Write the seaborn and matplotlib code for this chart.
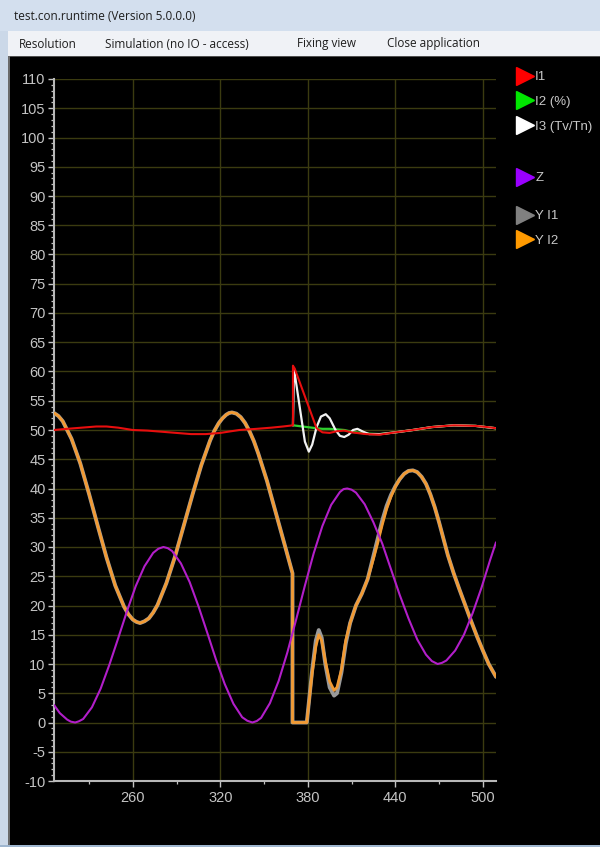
import numpy as np
import pandas as pd
import matplotlib
matplotlib.use("Agg")
import matplotlib.pyplot as plt
import seaborn as sns
from matplotlib.patches import Rectangle
from matplotlib.lines import Line2D
from matplotlib.ticker import FixedLocator, MultipleLocator

# ---------------- data ----------------
window_title = "test.con.runtime (Version 5.0.0.0)"
menu_items = ["Resolution", "Simulation (no IO - access)", "Fixing view", "Close application"]
menu_x_px = [19, 105, 297, 387]

x_major_ticks = [260, 320, 380, 440, 500]
x_minor_ticks = [230, 290, 350, 410, 470]
y_major_ticks = list(range(-10, 111, 5))

legend_labels = ["I1", "I2 (%)", "I3 (Tv/Tn)", "Z", "Y I1", "Y I2"]

# I1 (red)
i1_x = [206, 215, 225, 235, 242, 250, 260, 270, 280, 290, 300, 310, 320, 333, 345, 355, 363, 369.8,
        369.8, 371, 386, 390, 395, 400, 405, 410, 420, 429, 440, 452, 465, 480, 495, 503, 509]
i1_y = [50.0, 50.2, 50.4, 50.6, 50.6, 50.4, 50.0, 49.9, 49.7, 49.5, 49.3, 49.3, 49.5, 50.0, 50.2, 50.4, 50.6, 50.8,
        61.0, 60.5, 50.3, 49.6, 49.5, 49.8, 49.9, 49.6, 49.3, 49.2, 49.6, 50.0, 50.5, 50.8, 50.7, 50.5, 50.3]

# I2 (%) (green)
i2_x = [369.8, 386, 390, 395, 400, 405, 410, 420, 429, 440, 452, 465, 480, 495, 509]
i2_y = [50.8, 50.3, 50.2, 50.2, 50.1, 50.0, 49.7, 49.4, 49.3, 49.6, 50.0, 50.5, 50.8, 50.7, 50.3]

# I3 (Tv/Tn) (white)
i3_x = [369.8, 370.5, 372, 375, 378, 380.7, 383, 386, 389, 392.3, 395, 399, 402, 405, 408, 411, 414,
        418, 422, 430, 440, 452, 465, 480, 495, 509]
i3_y = [50.8, 60.5, 58.0, 53.0, 48.0, 46.3, 47.5, 50.5, 52.3, 52.7, 52.0, 50.0, 49.0, 48.8, 49.2, 50.0, 50.2,
        49.7, 49.3, 49.3, 49.6, 50.0, 50.5, 50.8, 50.7, 50.3]

# Z (purple)
z_x = [206, 210, 215, 217.5, 220.5, 223, 226, 232, 238, 244, 250, 256, 262, 268, 274, 277.5, 281,
       284, 287, 293, 299, 305, 311, 317, 323, 329, 335, 338.5, 342,
       345, 348, 354, 360, 366, 372, 378, 384, 390, 396, 402, 404.5, 407,
       410, 413, 419, 425, 431, 437, 443, 449, 455, 461, 465, 469,
       472, 475, 481, 487, 493, 499, 505, 509]
z_y = [3.0, 1.6, 0.5, 0.15, 0.0, 0.2, 0.6, 2.6, 5.8, 9.9, 14.4, 19.0, 23.3, 26.7, 29.0, 29.7, 30.0,
       29.8, 29.3, 27.2, 24.0, 19.9, 15.4, 10.8, 6.6, 3.2, 0.9, 0.3, 0.0,
       0.25, 0.8, 3.3, 7.1, 12.0, 17.6, 23.4, 28.9, 33.6, 37.2, 39.4, 39.9, 40.0,
       39.8, 39.3, 37.3, 34.2, 30.6, 26.2, 21.8, 17.8, 14.2, 11.6, 10.5, 10.0,
       10.2, 10.6, 12.3, 15.0, 18.7, 23.0, 27.8, 30.8]

# Y I2 (orange)
yi2_x = [206, 209, 212, 218, 224, 230, 236, 242, 248, 254, 257, 260, 262.5, 265,
         268, 271, 274, 277, 283, 289, 295, 301, 307, 313, 316, 319, 321.5, 324, 326, 328,
         331, 334, 337, 340, 343, 346, 352, 358, 364, 369.5, 369.5, 379.3,
         383, 385.5, 387.5, 389.5, 392, 395, 398, 400, 403, 406,
         409, 413, 417, 421, 425, 428, 431, 434, 437, 440, 443, 446, 449, 452,
         455, 458, 461, 464, 467, 470, 473, 476, 480, 484, 488, 492, 496, 500, 504, 509]
yi2_y = [52.9, 52.4, 51.5, 48.5, 44.3, 39.1, 33.6, 28.2, 23.4, 19.8, 18.5, 17.6, 17.2, 17.0,
         17.3, 17.8, 18.8, 20.1, 23.8, 28.4, 33.7, 39.0, 44.0, 48.2, 49.9, 51.2, 52.0, 52.6, 52.9, 53.0,
         52.8, 52.2, 51.2, 49.8, 48.1, 46.0, 41.3, 35.9, 30.5, 25.5, 0.0, 0.0,
         8.5, 13.0, 15.0, 14.0, 10.5, 7.0, 5.5, 6.0, 9.0, 14.0,
         17.0, 20.0, 22.0, 24.5, 28.0, 30.8, 33.8, 36.5, 38.6, 40.3, 41.6, 42.5, 43.0, 43.1,
         42.8, 42.0, 40.8, 39.0, 36.8, 34.2, 31.4, 28.6, 25.5, 22.7, 20.0, 17.3, 14.7, 12.3, 10.0, 7.8]

# Y I1 (grey)
yi1_x = list(yi2_x)
yi1_y = [52.9, 52.4, 51.5, 48.5, 44.3, 39.1, 33.6, 28.2, 23.4, 19.8, 18.5, 17.6, 17.2, 17.0,
         17.3, 17.8, 18.8, 20.1, 23.8, 28.4, 33.7, 39.0, 44.0, 48.2, 49.9, 51.2, 52.0, 52.6, 52.9, 53.0,
         52.8, 52.2, 51.2, 49.8, 48.1, 46.0, 41.3, 35.9, 30.5, 25.5, 0.0, 0.0,
         9.0, 14.0, 15.8, 14.5, 10.0, 6.0, 4.6, 5.0, 8.5, 13.5,
         17.0, 20.0, 22.0, 24.5, 28.5, 31.5, 34.5, 37.0, 38.9, 40.4, 41.6, 42.5, 43.0, 43.1,
         42.8, 42.0, 40.8, 39.0, 36.8, 34.2, 31.4, 28.6, 25.5, 22.7, 20.0, 17.3, 14.7, 12.3, 10.0, 7.8]

# ---------------- style ----------------
sns.set_theme(style="ticks")
plt.rcParams["font.family"] = ["Liberation Sans Narrow", "Liberation Sans", "DejaVu Sans"]
plt.rcParams["axes.unicode_minus"] = False

W, H = 600, 847
fig = plt.figure(figsize=(W / 100, H / 100), dpi=100, facecolor="black")


def fx(px):
    return px / W


def fy(py):
    return 1 - py / H


# window chrome
fig.add_artist(Rectangle((0, fy(31)), 1, 31 / H, transform=fig.transFigure,
                         facecolor="#d3dfee", edgecolor="none", zorder=0))
fig.add_artist(Rectangle((0, fy(56)), 1, 25 / H, transform=fig.transFigure,
                         facecolor="#f0f2f6", edgecolor="none", zorder=0))
fig.add_artist(Rectangle((0, fy(57)), 1, 1 / H, transform=fig.transFigure,
                         facecolor="#505050", edgecolor="none", zorder=0))
fig.add_artist(Rectangle((0, 0), fx(8), fy(31), transform=fig.transFigure,
                         facecolor="#cbd8e8", edgecolor="none", zorder=0))
fig.add_artist(Rectangle((fx(8), 0), fx(1.5), fy(56), transform=fig.transFigure,
                         facecolor="#6a6a6a", edgecolor="none", zorder=0))
fig.add_artist(Rectangle((0, 0), 1, 2 / H, transform=fig.transFigure,
                         facecolor="#9fb6cf", edgecolor="none", zorder=0))

fig.text(fx(14), fy(17), window_title, fontsize=8.5, color="#1e1e1e",
         family=["Open Sans", "DejaVu Sans"], va="center", ha="left")
for label, px in zip(menu_items, menu_x_px):
    fig.text(fx(px), fy(44), label, fontsize=8.5, color="#1e1e1e",
             family=["Open Sans", "DejaVu Sans"], va="center", ha="left")

# plotting area
ax = fig.add_axes([fx(54), fy(781), fx(496 - 54), (781 - 79) / H])
ax.set_facecolor("black")

grid_col = "#3b3b10"
series = [
    (yi1_x, yi1_y, "#9a9a9a", 2.8),
    (yi2_x, yi2_y, "#f29a33", 2.0),
    (z_x, z_y, "#b21ec9", 1.5),
    (i2_x, i2_y, "#2fd02f", 1.6),
    (i3_x, i3_y, "#f2f2f2", 1.6),
    (i1_x, i1_y, "#e80e0e", 1.5),
]
for k, (xs, ys, col, lw) in enumerate(series):
    df = pd.DataFrame({"t": xs, "v": ys})
    sns.lineplot(data=df, x="t", y="v", sort=False, estimator=None, color=col,
                 linewidth=lw, ax=ax, zorder=3 + k)

ax.set_xlim(206, 509)
ax.set_ylim(-10, 110)
ax.set_xlabel("")
ax.set_ylabel("")

ax.xaxis.set_major_locator(FixedLocator(x_major_ticks))
ax.xaxis.set_minor_locator(FixedLocator(x_minor_ticks))
ax.yaxis.set_major_locator(FixedLocator(y_major_ticks))
ax.yaxis.set_minor_locator(MultipleLocator(1))

ax.grid(True, which="major", color=grid_col, linewidth=1.0, zorder=1)
ax.grid(False, which="minor")
ax.set_axisbelow(True)

for side in ["top", "right"]:
    ax.spines[side].set_visible(False)
for side in ["left", "bottom"]:
    ax.spines[side].set_visible(True)
    ax.spines[side].set_color("#b8b8b8")
    ax.spines[side].set_linewidth(1.5)

tick_col = "#c4c4c4"
ax.tick_params(axis="both", which="major", direction="out", length=4.5, width=1.0,
               color=tick_col, labelcolor=tick_col, labelsize=10.5, pad=1.5,
               bottom=True, left=True, top=False, right=False)
ax.tick_params(axis="both", which="minor", direction="out", length=2.5, width=0.9,
               color=tick_col, bottom=True, left=True, top=False, right=False)
ax.tick_params(axis="x", which="major", pad=3)

# legend (three groups to reproduce the spacing)
leg_colors = ["#ff0000", "#00e600", "#ffffff", "#9a00ff", "#808080", "#ff9a00"]
handles = [Line2D([], [], linestyle="none", marker=">", markersize=13,
                  markerfacecolor=c, markeredgecolor=c) for c in leg_colors]
groups = [([0, 1, 2], 71), ([3], 172), ([4, 5], 210)]
for idx, top in groups:
    lg = fig.legend([handles[i] for i in idx], [legend_labels[i] for i in idx],
                    loc="upper left", bbox_to_anchor=(fx(516), fy(top)),
                    frameon=False, borderpad=0, borderaxespad=0,
                    handlelength=1.3, handletextpad=0.15, labelspacing=0.95,
                    fontsize=9.5, labelcolor="#c8c8c8")

fig.savefig("out.png", dpi=100, facecolor="black")
